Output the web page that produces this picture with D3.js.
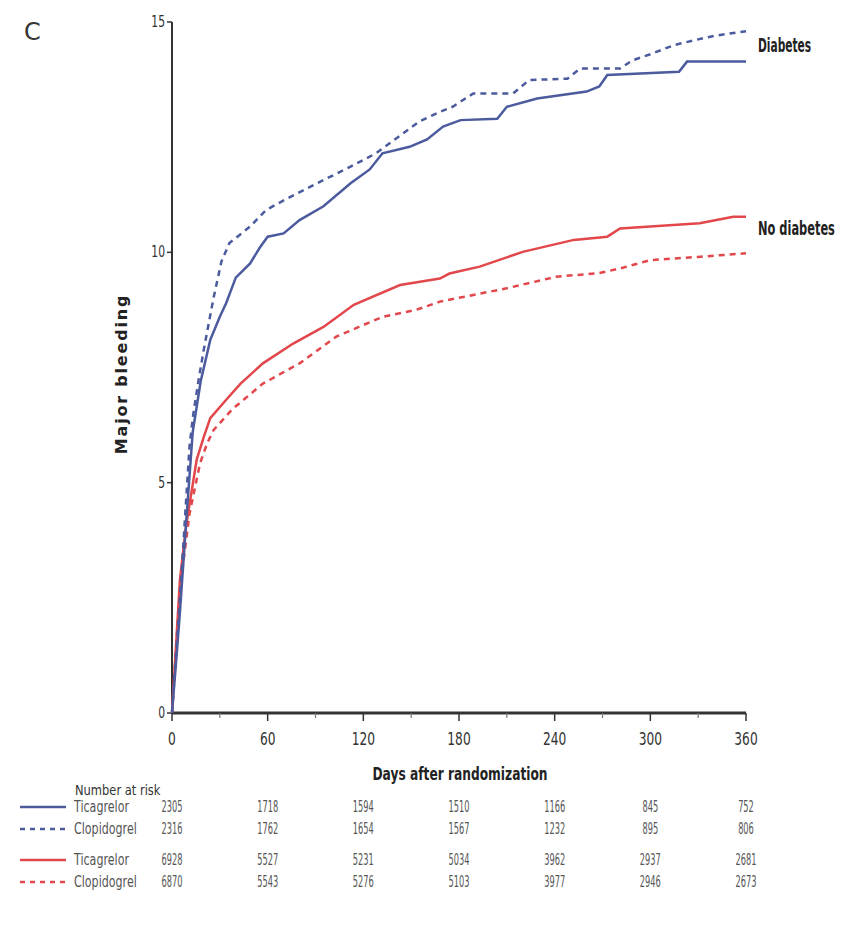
<!DOCTYPE html>
<html>
<head>
<meta charset="utf-8">
<script src="https://cdn.jsdelivr.net/npm/d3@7"></script>
<style>
  body { margin: 0; background: #fff; }
  svg text { font-family: "DejaVu Sans", "Liberation Sans", sans-serif; }
</style>
</head>
<body>
<svg width="860" height="934"></svg>
<script>
// curve data: [day, major bleeding %]
let diabTica = [[0,0],[3,1.3],[5,2.2],[9,4.2],[13,6.1],[18,7.2],[24,8.1],[30,8.6],[34,8.9],[40,9.45],[49,9.76],[55,10.1],[60,10.34],[70,10.41],[80,10.7],[95,11.0],[112,11.5],[124,11.8],[132,12.15],[149,12.29],[160,12.45],[170,12.73],[181,12.87],[204,12.9],[210,13.16],[229,13.34],[260,13.49],[268,13.6],[273,13.85],[318,13.92],[323,14.14],[360,14.14]];
let diabClop = [[0,0],[4,2.0],[7,3.6],[11,5.8],[13.4,6.5],[17,7.3],[20,7.9],[26,9.0],[31,9.8],[36,10.2],[49,10.56],[59,10.92],[74,11.2],[91,11.5],[112,11.86],[128,12.15],[139,12.43],[155,12.84],[168,13.05],[176,13.16],[189,13.45],[214,13.45],[224,13.74],[248,13.77],[256,13.99],[281,13.99],[289,14.17],[300,14.3],[315,14.5],[327,14.6],[340,14.7],[360,14.8]];
let noDiabTica = [[0,0],[5,2.9],[9,4.1],[15.5,5.5],[20,6.0],[24,6.4],[34,6.8],[43,7.15],[57,7.59],[76,8.02],[95,8.38],[114,8.86],[143,9.29],[168,9.43],[174,9.54],[193,9.69],[220,10.01],[252,10.27],[273,10.34],[281,10.52],[300,10.56],[331,10.63],[352,10.77],[360,10.77]];
let noDiabClop = [[0,0],[5,2.7],[11,4.33],[17.6,5.42],[22,5.85],[26,6.14],[38,6.6],[57,7.15],[80,7.59],[103,8.17],[132,8.6],[153,8.75],[168,8.93],[210,9.22],[241,9.47],[268,9.55],[281,9.65],[300,9.83],[330,9.9],[360,9.98]];

let xTicks = [0, 60, 120, 180, 240, 300, 360];
let xMinorTicks = [30, 90, 150, 210, 270, 330];
let yTicks = [0, 5, 10, 15];

let riskRows = [
  {name: "Ticagrelor", group: "diab", dashed: false, values: [2305, 1718, 1594, 1510, 1166, 845, 752]},
  {name: "Clopidogrel", group: "diab", dashed: true, values: [2316, 1762, 1654, 1567, 1232, 895, 806]},
  {name: "Ticagrelor", group: "nodiab", dashed: false, values: [6928, 5527, 5231, 5034, 3962, 2937, 2681]},
  {name: "Clopidogrel", group: "nodiab", dashed: true, values: [6870, 5543, 5276, 5103, 3977, 2946, 2673]}
];

let blue = "#4b5b9e", red = "#e2474b", axisCol = "#333";

var svg = d3.select('svg');

var x = d3.scaleLinear().domain([0, 360]).range([172, 746]);
var y = d3.scaleLinear().domain([0, 15]).range([713, 22]);

// squeeze text horizontally (no condensed font installed)
function condense(sel, k) {
    sel.each(function () {
        var tx = +this.getAttribute('x') || 0, ty = +this.getAttribute('y') || 0;
        this.setAttribute('x', 0);
        this.setAttribute('y', 0);
        this.setAttribute('transform', `translate(${tx},${ty}) scale(${k},1)`);
    });
}

// panel letter
svg.append('text').attr('x', 24).attr('y', 40)
    .attr('font-size', 24).attr('fill', '#333').text('C');

// y axis
svg.append('line').attr('x1', x(0)).attr('x2', x(0)).attr('y1', y(15)).attr('y2', y(0))
    .attr('stroke', axisCol).attr('stroke-width', 2);
svg.selectAll('.ytick').data(yTicks).enter().append('line')
    .attr('x1', x(0) - 5).attr('x2', x(0))
    .attr('y1', d => y(d)).attr('y2', d => y(d))
    .attr('stroke', axisCol).attr('stroke-width', 1.5);
svg.selectAll('.ylab').data(yTicks).enter().append('text')
    .attr('x', x(0) - 7).attr('y', d => y(d) + 5)
    .attr('text-anchor', 'end').attr('font-size', 15).attr('fill', '#333')
    .text(d => d)
    .call(condense, 0.72);

svg.append('text')
    .attr('transform', `translate(127, 374) rotate(-90)`)
    .attr('text-anchor', 'middle')
    .attr('font-size', 16).attr('font-weight', 'bold').attr('fill', '#222')
    .attr('letter-spacing', 1.8)
    .text('Major bleeding');

// x axis
svg.append('line').attr('x1', x(0)).attr('x2', x(360)).attr('y1', y(0)).attr('y2', y(0))
    .attr('stroke', axisCol).attr('stroke-width', 3);
svg.selectAll('.xtick').data(xTicks).enter().append('line')
    .attr('x1', d => x(d)).attr('x2', d => x(d))
    .attr('y1', y(0)).attr('y2', y(0) + 8)
    .attr('stroke', axisCol).attr('stroke-width', 1.5);
svg.selectAll('.xminor').data(xMinorTicks).enter().append('line')
    .attr('x1', d => x(d)).attr('x2', d => x(d))
    .attr('y1', y(0)).attr('y2', y(0) + 5)
    .attr('stroke', '#777').attr('stroke-width', 1.2);
svg.selectAll('.xlab').data(xTicks).enter().append('text')
    .attr('x', d => x(d)).attr('y', y(0) + 32)
    .attr('text-anchor', 'middle').attr('font-size', 17).attr('fill', '#333')
    .text(d => d)
    .call(condense, 0.72);

svg.append('text').attr('x', 460).attr('y', 780)
    .attr('text-anchor', 'middle').attr('font-size', 18).attr('font-weight', 'bold').attr('fill', '#222')
    .text('Days after randomization')
    .call(condense, 0.68);

// curves
var line = d3.line().x(d => x(d[0])).y(d => y(d[1]));
var curves = [
  {data: noDiabClop, color: red, dashed: true},
  {data: noDiabTica, color: red, dashed: false},
  {data: diabClop, color: blue, dashed: true},
  {data: diabTica, color: blue, dashed: false}
];
svg.selectAll('.curve').data(curves).enter().append('path')
    .attr('d', d => line(d.data))
    .attr('fill', 'none')
    .attr('stroke', d => d.color)
    .attr('stroke-width', 2.5)
    .attr('stroke-dasharray', d => d.dashed ? '6,5' : null);

svg.append('text').attr('x', 758).attr('y', 52)
    .attr('font-size', 19).attr('font-weight', 'bold').attr('fill', '#222').text('Diabetes')
    .call(condense, 0.56);
svg.append('text').attr('x', 758).attr('y', 235)
    .attr('font-size', 19).attr('font-weight', 'bold').attr('fill', '#222').text('No diabetes')
    .call(condense, 0.6);

// number at risk table
svg.append('text').attr('x', 75).attr('y', 795)
    .attr('font-size', 14).attr('fill', '#333').text('Number at risk')
    .call(condense, 0.82);

var rowY = [812, 834, 865, 887];
var rows = svg.selectAll('.riskrow').data(riskRows).enter().append('g')
    .attr('transform', (d, i) => `translate(0, ${rowY[i]})`);
rows.append('line')
    .attr('x1', 20).attr('x2', 66).attr('y1', -5).attr('y2', -5)
    .attr('stroke', d => d.group == 'diab' ? blue : red)
    .attr('stroke-width', 2.5)
    .attr('stroke-dasharray', d => d.dashed ? '5,5' : null);
rows.append('text').attr('x', 74).attr('y', 0)
    .attr('font-size', 15).attr('fill', '#555').text(d => d.name)
    .call(condense, 0.74);
rows.selectAll('.num').data(d => d.values).enter().append('text')
    .attr('x', (v, i) => x(xTicks[i]))
    .attr('y', 0)
    .attr('text-anchor', 'middle').attr('font-size', 15).attr('fill', '#555')
    .text(v => v)
    .call(condense, 0.55);
</script>
</body>
</html>
